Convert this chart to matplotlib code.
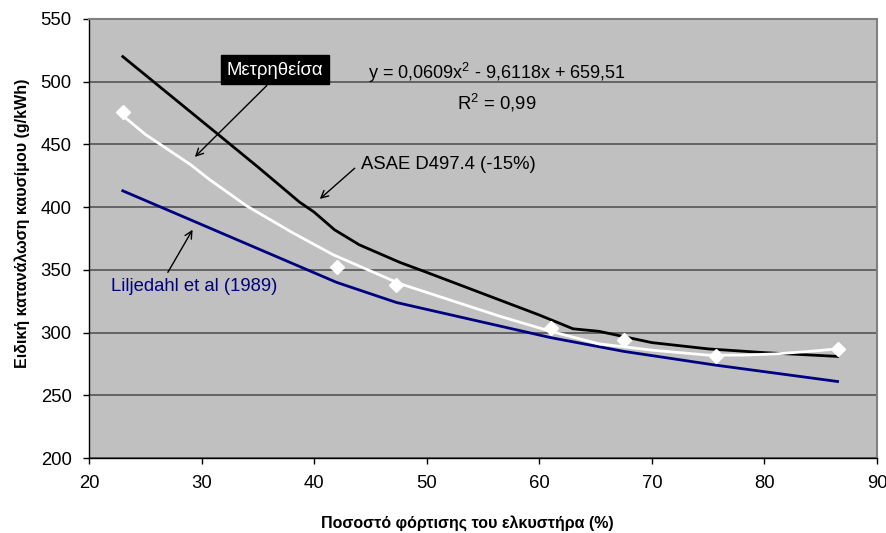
import numpy as np
import matplotlib.pyplot as plt

plt.rcParams['font.family'] = ['Liberation Sans', 'DejaVu Sans']
plt.rcParams['mathtext.fontset'] = 'custom'
plt.rcParams['mathtext.rm'] = 'Liberation Sans'
plt.rcParams['mathtext.it'] = 'Liberation Sans'

# ASAE D497.4 (-15%)
asae_x = [23, 31.6, 35, 38.7, 40, 41.8, 44, 47.6, 50, 55, 60, 63, 65.3, 70, 75, 80, 86.5]
asae_y = [520, 457, 432, 404, 396, 382, 370, 356, 348, 331, 314, 303, 301, 292, 287, 284, 281]

# Liljedahl et al (1989)
lil_x = [23, 42, 47.3, 61, 67.5, 75.7, 86.5]
lil_y = [413, 340, 324, 296, 285, 274, 261]

# μετρηθείσα (σημεία)
meas_x = [23, 42, 47.3, 61, 67.5, 75.7, 86.5]
meas_y = [476, 352, 338, 304, 294, 281, 287]

# γραμμή τάσης (διαβασμένη από την εικόνα)
trend_x = [23, 25, 27, 29, 30.7, 34, 38, 41.7, 45.8, 47.6, 50, 56.5, 61, 65.3, 70, 75, 78, 81, 84, 86.5]
trend_y = [473, 458, 446, 434, 422, 401, 380, 362, 346, 339, 332, 313, 301, 291, 286, 282, 282, 283, 285, 287]

fig = plt.figure(figsize=(8.86, 5.33), dpi=100)
ax = fig.add_axes([0.1005, 0.1407, 0.8893, 0.8237])
ax.set_facecolor('#c0c0c0')

ax.plot(asae_x, asae_y, color='black', lw=2, zorder=3)
ax.plot(lil_x, lil_y, color='#000080', lw=2, zorder=3)
ax.plot(trend_x, trend_y, color='white', lw=2, zorder=4)
ax.plot(meas_x, meas_y, ls='none', marker='D', ms=7, color='white', mec='white', zorder=5)

ax.set_xlim(20, 90)
ax.set_ylim(200, 550)
ax.set_xticks(np.arange(20, 91, 10))
ax.set_yticks(np.arange(200, 551, 50))
ax.yaxis.grid(True, color='#555555', lw=1.2)
ax.set_axisbelow(True)
ax.tick_params(labelsize=13.3, direction='out', length=4.5, width=1, pad=8)

for s in ['left', 'bottom']:
    ax.spines[s].set_color('black')
    ax.spines[s].set_linewidth(1)
for s in ['top', 'right']:
    ax.spines[s].set_color('#808080')
    ax.spines[s].set_linewidth(1.5)

ax.set_xlabel('Ποσοστό φόρτισης του ελκυστήρα (%)', fontsize=11.5, fontweight='bold')
ax.set_ylabel('Ειδική κατανάλωση καυσίμου (g/kWh)', fontsize=11.5, fontweight='bold')
ax.xaxis.set_label_coords(0.48, -0.13)
ax.yaxis.set_label_coords(-0.075, 0.535)

arr = dict(arrowstyle='->', color='black', lw=1, mutation_scale=13, shrinkA=0, shrinkB=0)

ax.annotate('', xy=(29.4, 440), xytext=(35.8, 497), arrowprops=arr)
ax.text(36.5, 509.4, 'Μετρηθείσα', fontsize=13.3, color='white', ha='center', va='center',
        bbox=dict(boxstyle='square,pad=0.3', fc='black', ec='black'), zorder=6)

ax.text(44.76, 507, 'y = 0,0609x$^2$ - 9,6118x + 659,51', fontsize=13, ha='left', va='center')
ax.text(56.2, 483, 'R$^2$ = 0,99', fontsize=13.3, ha='center', va='center')

ax.annotate('', xy=(40.5, 406.5), xytext=(43.6, 431), arrowprops=arr)
ax.text(44.2, 433.6, 'ASAE D497.4 (-15%)', fontsize=13.3, ha='left', va='center')

ax.annotate('', xy=(29.2, 382), xytext=(27.0, 348), arrowprops=arr)
ax.text(21.95, 337, 'Liljedahl et al (1989)', fontsize=13.3, ha='left', va='center', color='#000080')

fig.savefig('out.png', dpi=100, facecolor='white')
